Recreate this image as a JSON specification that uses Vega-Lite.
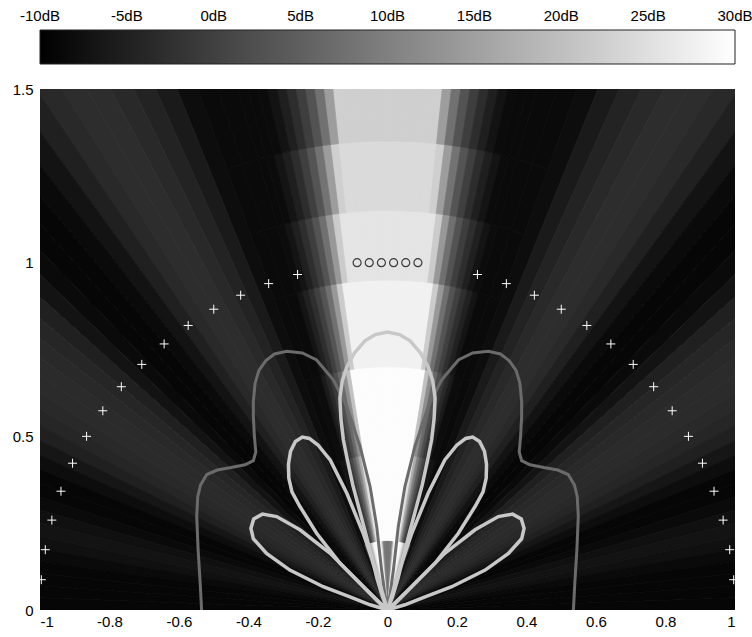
{
"$schema": "https://vega.github.io/schema/vega-lite/v6.json",
"padding": {"left": 12, "top": 30, "right": 0, "bottom": 8},
"width": 695,
"height": 521,
"datasets": {
"heat": [
{"t1":0,"t2":2,"r1":0,"r2":0.2,"db":8},{"t1":2,"t2":4,"r1":0,"r2":0.2,"db":9},{"t1":4,"t2":5,"r1":0,"r2":0.2,"db":16},{"t1":5,"t2":6,"r1":0,"r2":0.2,"db":26},{"t1":6,"t2":7,"r1":0,"r2":0.2,"db":29},{"t1":7,"t2":8,"r1":0,"r2":0.2,"db":29},{"t1":8,"t2":9,"r1":0,"r2":0.2,"db":29},{"t1":9,"t2":10,"r1":0,"r2":0.2,"db":29},{"t1":10,"t2":11,"r1":0,"r2":0.2,"db":29},{"t1":11,"t2":12,"r1":0,"r2":0.2,"db":29},{"t1":12,"t2":13,"r1":0,"r2":0.2,"db":27},{"t1":13,"t2":14,"r1":0,"r2":0.2,"db":23},{"t1":14,"t2":15,"r1":0,"r2":0.2,"db":19},{"t1":15,"t2":16,"r1":0,"r2":0.2,"db":15},{"t1":16,"t2":18,"r1":0,"r2":0.2,"db":8},{"t1":18,"t2":20,"r1":0,"r2":0.2,"db":0},
{"t1":-2,"t2":0,"r1":0,"r2":0.2,"db":8},{"t1":-4,"t2":-2,"r1":0,"r2":0.2,"db":9},{"t1":-5,"t2":-4,"r1":0,"r2":0.2,"db":16},{"t1":-6,"t2":-5,"r1":0,"r2":0.2,"db":26},{"t1":-7,"t2":-6,"r1":0,"r2":0.2,"db":29},{"t1":-8,"t2":-7,"r1":0,"r2":0.2,"db":29},{"t1":-9,"t2":-8,"r1":0,"r2":0.2,"db":29},{"t1":-10,"t2":-9,"r1":0,"r2":0.2,"db":29},{"t1":-11,"t2":-10,"r1":0,"r2":0.2,"db":29},{"t1":-12,"t2":-11,"r1":0,"r2":0.2,"db":29},{"t1":-13,"t2":-12,"r1":0,"r2":0.2,"db":27},{"t1":-14,"t2":-13,"r1":0,"r2":0.2,"db":23},{"t1":-15,"t2":-14,"r1":0,"r2":0.2,"db":19},{"t1":-16,"t2":-15,"r1":0,"r2":0.2,"db":15},{"t1":-18,"t2":-16,"r1":0,"r2":0.2,"db":8},{"t1":-20,"t2":-18,"r1":0,"r2":0.2,"db":0},
{"t1":0,"t2":2,"r1":0.2,"r2":0.45,"db":29.5},{"t1":2,"t2":4,"r1":0.2,"r2":0.45,"db":29.5},{"t1":4,"t2":5,"r1":0.2,"r2":0.45,"db":29.5},{"t1":5,"t2":6,"r1":0.2,"r2":0.45,"db":29.5},{"t1":6,"t2":7,"r1":0.2,"r2":0.45,"db":29.5},{"t1":7,"t2":8,"r1":0.2,"r2":0.45,"db":29.5},{"t1":8,"t2":9,"r1":0.2,"r2":0.45,"db":29.5},{"t1":9,"t2":10,"r1":0.2,"r2":0.45,"db":25.1},{"t1":10,"t2":11,"r1":0.2,"r2":0.45,"db":16.7},{"t1":11,"t2":12,"r1":0.2,"r2":0.45,"db":9.9},{"t1":12,"t2":13,"r1":0.2,"r2":0.45,"db":5},{"t1":13,"t2":14,"r1":0.2,"r2":0.45,"db":1.4},{"t1":14,"t2":15,"r1":0.2,"r2":0.45,"db":-1.5},{"t1":15,"t2":16,"r1":0.2,"r2":0.45,"db":-3.9},{"t1":16,"t2":18,"r1":0.2,"r2":0.45,"db":-6.9},{"t1":18,"t2":20,"r1":0.2,"r2":0.45,"db":-8.5},
{"t1":-2,"t2":0,"r1":0.2,"r2":0.45,"db":29.5},{"t1":-4,"t2":-2,"r1":0.2,"r2":0.45,"db":29.5},{"t1":-5,"t2":-4,"r1":0.2,"r2":0.45,"db":29.5},{"t1":-6,"t2":-5,"r1":0.2,"r2":0.45,"db":29.5},{"t1":-7,"t2":-6,"r1":0.2,"r2":0.45,"db":29.5},{"t1":-8,"t2":-7,"r1":0.2,"r2":0.45,"db":29.5},{"t1":-9,"t2":-8,"r1":0.2,"r2":0.45,"db":29.5},{"t1":-10,"t2":-9,"r1":0.2,"r2":0.45,"db":25.1},{"t1":-11,"t2":-10,"r1":0.2,"r2":0.45,"db":16.7},{"t1":-12,"t2":-11,"r1":0.2,"r2":0.45,"db":9.9},{"t1":-13,"t2":-12,"r1":0.2,"r2":0.45,"db":5},{"t1":-14,"t2":-13,"r1":0.2,"r2":0.45,"db":1.4},{"t1":-15,"t2":-14,"r1":0.2,"r2":0.45,"db":-1.5},{"t1":-16,"t2":-15,"r1":0.2,"r2":0.45,"db":-3.9},{"t1":-18,"t2":-16,"r1":0.2,"r2":0.45,"db":-6.9},{"t1":-20,"t2":-18,"r1":0.2,"r2":0.45,"db":-8.5},
{"t1":0,"t2":2,"r1":0.45,"r2":0.7,"db":29.5},{"t1":2,"t2":4,"r1":0.45,"r2":0.7,"db":29.5},{"t1":4,"t2":5,"r1":0.45,"r2":0.7,"db":29.5},{"t1":5,"t2":6,"r1":0.45,"r2":0.7,"db":29.5},{"t1":6,"t2":7,"r1":0.45,"r2":0.7,"db":29.5},{"t1":7,"t2":8,"r1":0.45,"r2":0.7,"db":29.5},{"t1":8,"t2":9,"r1":0.45,"r2":0.7,"db":29.5},{"t1":9,"t2":10,"r1":0.45,"r2":0.7,"db":20.3},{"t1":10,"t2":11,"r1":0.45,"r2":0.7,"db":12.3},{"t1":11,"t2":12,"r1":0.45,"r2":0.7,"db":6.4},{"t1":12,"t2":13,"r1":0.45,"r2":0.7,"db":2.3},{"t1":13,"t2":14,"r1":0.45,"r2":0.7,"db":-0.9},{"t1":14,"t2":15,"r1":0.45,"r2":0.7,"db":-3.6},{"t1":15,"t2":16,"r1":0.45,"r2":0.7,"db":-5.8},{"t1":16,"t2":18,"r1":0.45,"r2":0.7,"db":-8.1},{"t1":18,"t2":20,"r1":0.45,"r2":0.7,"db":-8.5},
{"t1":-2,"t2":0,"r1":0.45,"r2":0.7,"db":29.5},{"t1":-4,"t2":-2,"r1":0.45,"r2":0.7,"db":29.5},{"t1":-5,"t2":-4,"r1":0.45,"r2":0.7,"db":29.5},{"t1":-6,"t2":-5,"r1":0.45,"r2":0.7,"db":29.5},{"t1":-7,"t2":-6,"r1":0.45,"r2":0.7,"db":29.5},{"t1":-8,"t2":-7,"r1":0.45,"r2":0.7,"db":29.5},{"t1":-9,"t2":-8,"r1":0.45,"r2":0.7,"db":29.5},{"t1":-10,"t2":-9,"r1":0.45,"r2":0.7,"db":20.3},{"t1":-11,"t2":-10,"r1":0.45,"r2":0.7,"db":12.3},{"t1":-12,"t2":-11,"r1":0.45,"r2":0.7,"db":6.4},{"t1":-13,"t2":-12,"r1":0.45,"r2":0.7,"db":2.3},{"t1":-14,"t2":-13,"r1":0.45,"r2":0.7,"db":-0.9},{"t1":-15,"t2":-14,"r1":0.45,"r2":0.7,"db":-3.6},{"t1":-16,"t2":-15,"r1":0.45,"r2":0.7,"db":-5.8},{"t1":-18,"t2":-16,"r1":0.45,"r2":0.7,"db":-8.1},{"t1":-20,"t2":-18,"r1":0.45,"r2":0.7,"db":-8.5},
{"t1":0,"t2":2,"r1":0.7,"r2":0.95,"db":27.8},{"t1":2,"t2":4,"r1":0.7,"r2":0.95,"db":27.8},{"t1":4,"t2":5,"r1":0.7,"r2":0.95,"db":27.8},{"t1":5,"t2":6,"r1":0.7,"r2":0.95,"db":27.8},{"t1":6,"t2":7,"r1":0.7,"r2":0.95,"db":27.8},{"t1":7,"t2":8,"r1":0.7,"r2":0.95,"db":27.8},{"t1":8,"t2":9,"r1":0.7,"r2":0.95,"db":21.8},{"t1":9,"t2":10,"r1":0.7,"r2":0.95,"db":13.8},{"t1":10,"t2":11,"r1":0.7,"r2":0.95,"db":7.6},{"t1":11,"t2":12,"r1":0.7,"r2":0.95,"db":3.2},{"t1":12,"t2":13,"r1":0.7,"r2":0.95,"db":0},{"t1":13,"t2":14,"r1":0.7,"r2":0.95,"db":-2.7},{"t1":14,"t2":15,"r1":0.7,"r2":0.95,"db":-4.9},{"t1":15,"t2":16,"r1":0.7,"r2":0.95,"db":-6.8},{"t1":16,"t2":18,"r1":0.7,"r2":0.95,"db":-8.5},{"t1":18,"t2":20,"r1":0.7,"r2":0.95,"db":-8.5},
{"t1":-2,"t2":0,"r1":0.7,"r2":0.95,"db":27.8},{"t1":-4,"t2":-2,"r1":0.7,"r2":0.95,"db":27.8},{"t1":-5,"t2":-4,"r1":0.7,"r2":0.95,"db":27.8},{"t1":-6,"t2":-5,"r1":0.7,"r2":0.95,"db":27.8},{"t1":-7,"t2":-6,"r1":0.7,"r2":0.95,"db":27.8},{"t1":-8,"t2":-7,"r1":0.7,"r2":0.95,"db":27.8},{"t1":-9,"t2":-8,"r1":0.7,"r2":0.95,"db":21.8},{"t1":-10,"t2":-9,"r1":0.7,"r2":0.95,"db":13.8},{"t1":-11,"t2":-10,"r1":0.7,"r2":0.95,"db":7.6},{"t1":-12,"t2":-11,"r1":0.7,"r2":0.95,"db":3.2},{"t1":-13,"t2":-12,"r1":0.7,"r2":0.95,"db":0},{"t1":-14,"t2":-13,"r1":0.7,"r2":0.95,"db":-2.7},{"t1":-15,"t2":-14,"r1":0.7,"r2":0.95,"db":-4.9},{"t1":-16,"t2":-15,"r1":0.7,"r2":0.95,"db":-6.8},{"t1":-18,"t2":-16,"r1":0.7,"r2":0.95,"db":-8.5},{"t1":-20,"t2":-18,"r1":0.7,"r2":0.95,"db":-8.5},
{"t1":0,"t2":2,"r1":0.95,"r2":1.15,"db":25.8},{"t1":2,"t2":4,"r1":0.95,"r2":1.15,"db":25.8},{"t1":4,"t2":5,"r1":0.95,"r2":1.15,"db":25.8},{"t1":5,"t2":6,"r1":0.95,"r2":1.15,"db":25.8},{"t1":6,"t2":7,"r1":0.95,"r2":1.15,"db":25.8},{"t1":7,"t2":8,"r1":0.95,"r2":1.15,"db":21.8},{"t1":8,"t2":9,"r1":0.95,"r2":1.15,"db":13.8},{"t1":9,"t2":10,"r1":0.95,"r2":1.15,"db":7.5},{"t1":10,"t2":11,"r1":0.95,"r2":1.15,"db":3},{"t1":11,"t2":12,"r1":0.95,"r2":1.15,"db":-0.2},{"t1":12,"t2":13,"r1":0.95,"r2":1.15,"db":-2.8},{"t1":13,"t2":14,"r1":0.95,"r2":1.15,"db":-5},{"t1":14,"t2":15,"r1":0.95,"r2":1.15,"db":-6.9},{"t1":15,"t2":16,"r1":0.95,"r2":1.15,"db":-8.1},{"t1":16,"t2":18,"r1":0.95,"r2":1.15,"db":-8.5},{"t1":18,"t2":20,"r1":0.95,"r2":1.15,"db":-8.5},
{"t1":-2,"t2":0,"r1":0.95,"r2":1.15,"db":25.8},{"t1":-4,"t2":-2,"r1":0.95,"r2":1.15,"db":25.8},{"t1":-5,"t2":-4,"r1":0.95,"r2":1.15,"db":25.8},{"t1":-6,"t2":-5,"r1":0.95,"r2":1.15,"db":25.8},{"t1":-7,"t2":-6,"r1":0.95,"r2":1.15,"db":25.8},{"t1":-8,"t2":-7,"r1":0.95,"r2":1.15,"db":21.8},{"t1":-9,"t2":-8,"r1":0.95,"r2":1.15,"db":13.8},{"t1":-10,"t2":-9,"r1":0.95,"r2":1.15,"db":7.5},{"t1":-11,"t2":-10,"r1":0.95,"r2":1.15,"db":3},{"t1":-12,"t2":-11,"r1":0.95,"r2":1.15,"db":-0.2},{"t1":-13,"t2":-12,"r1":0.95,"r2":1.15,"db":-2.8},{"t1":-14,"t2":-13,"r1":0.95,"r2":1.15,"db":-5},{"t1":-15,"t2":-14,"r1":0.95,"r2":1.15,"db":-6.9},{"t1":-16,"t2":-15,"r1":0.95,"r2":1.15,"db":-8.1},{"t1":-18,"t2":-16,"r1":0.95,"r2":1.15,"db":-8.5},{"t1":-20,"t2":-18,"r1":0.95,"r2":1.15,"db":-8.5},
{"t1":0,"t2":2,"r1":1.15,"r2":1.35,"db":24.2},{"t1":2,"t2":4,"r1":1.15,"r2":1.35,"db":24.2},{"t1":4,"t2":5,"r1":1.15,"r2":1.35,"db":24.2},{"t1":5,"t2":6,"r1":1.15,"r2":1.35,"db":24.2},{"t1":6,"t2":7,"r1":1.15,"r2":1.35,"db":22.5},{"t1":7,"t2":8,"r1":1.15,"r2":1.35,"db":14.6},{"t1":8,"t2":9,"r1":1.15,"r2":1.35,"db":8},{"t1":9,"t2":10,"r1":1.15,"r2":1.35,"db":3.2},{"t1":10,"t2":11,"r1":1.15,"r2":1.35,"db":-0.1},{"t1":11,"t2":12,"r1":1.15,"r2":1.35,"db":-2.9},{"t1":12,"t2":13,"r1":1.15,"r2":1.35,"db":-5.1},{"t1":13,"t2":14,"r1":1.15,"r2":1.35,"db":-6.9},{"t1":14,"t2":15,"r1":1.15,"r2":1.35,"db":-8.2},{"t1":15,"t2":16,"r1":1.15,"r2":1.35,"db":-8.5},{"t1":16,"t2":18,"r1":1.15,"r2":1.35,"db":-8.5},{"t1":18,"t2":20,"r1":1.15,"r2":1.35,"db":-8.5},
{"t1":-2,"t2":0,"r1":1.15,"r2":1.35,"db":24.2},{"t1":-4,"t2":-2,"r1":1.15,"r2":1.35,"db":24.2},{"t1":-5,"t2":-4,"r1":1.15,"r2":1.35,"db":24.2},{"t1":-6,"t2":-5,"r1":1.15,"r2":1.35,"db":24.2},{"t1":-7,"t2":-6,"r1":1.15,"r2":1.35,"db":22.5},{"t1":-8,"t2":-7,"r1":1.15,"r2":1.35,"db":14.6},{"t1":-9,"t2":-8,"r1":1.15,"r2":1.35,"db":8},{"t1":-10,"t2":-9,"r1":1.15,"r2":1.35,"db":3.2},{"t1":-11,"t2":-10,"r1":1.15,"r2":1.35,"db":-0.1},{"t1":-12,"t2":-11,"r1":1.15,"r2":1.35,"db":-2.9},{"t1":-13,"t2":-12,"r1":1.15,"r2":1.35,"db":-5.1},{"t1":-14,"t2":-13,"r1":1.15,"r2":1.35,"db":-6.9},{"t1":-15,"t2":-14,"r1":1.15,"r2":1.35,"db":-8.2},{"t1":-16,"t2":-15,"r1":1.15,"r2":1.35,"db":-8.5},{"t1":-18,"t2":-16,"r1":1.15,"r2":1.35,"db":-8.5},{"t1":-20,"t2":-18,"r1":1.15,"r2":1.35,"db":-8.5},
{"t1":0,"t2":2,"r1":1.35,"r2":1.85,"db":22.5},{"t1":2,"t2":4,"r1":1.35,"r2":1.85,"db":22.5},{"t1":4,"t2":5,"r1":1.35,"r2":1.85,"db":22.5},{"t1":5,"t2":6,"r1":1.35,"r2":1.85,"db":22.5},{"t1":6,"t2":7,"r1":1.35,"r2":1.85,"db":14.6},{"t1":7,"t2":8,"r1":1.35,"r2":1.85,"db":7.8},{"t1":8,"t2":9,"r1":1.35,"r2":1.85,"db":3},{"t1":9,"t2":10,"r1":1.35,"r2":1.85,"db":-0.3},{"t1":10,"t2":11,"r1":1.35,"r2":1.85,"db":-3},{"t1":11,"t2":12,"r1":1.35,"r2":1.85,"db":-5.2},{"t1":12,"t2":13,"r1":1.35,"r2":1.85,"db":-7},{"t1":13,"t2":14,"r1":1.35,"r2":1.85,"db":-8.2},{"t1":14,"t2":15,"r1":1.35,"r2":1.85,"db":-8.5},{"t1":15,"t2":16,"r1":1.35,"r2":1.85,"db":-8.5},{"t1":16,"t2":18,"r1":1.35,"r2":1.85,"db":-8.5},{"t1":18,"t2":20,"r1":1.35,"r2":1.85,"db":-8.5},
{"t1":-2,"t2":0,"r1":1.35,"r2":1.85,"db":22.5},{"t1":-4,"t2":-2,"r1":1.35,"r2":1.85,"db":22.5},{"t1":-5,"t2":-4,"r1":1.35,"r2":1.85,"db":22.5},{"t1":-6,"t2":-5,"r1":1.35,"r2":1.85,"db":22.5},{"t1":-7,"t2":-6,"r1":1.35,"r2":1.85,"db":14.6},{"t1":-8,"t2":-7,"r1":1.35,"r2":1.85,"db":7.8},{"t1":-9,"t2":-8,"r1":1.35,"r2":1.85,"db":3},{"t1":-10,"t2":-9,"r1":1.35,"r2":1.85,"db":-0.3},{"t1":-11,"t2":-10,"r1":1.35,"r2":1.85,"db":-3},{"t1":-12,"t2":-11,"r1":1.35,"r2":1.85,"db":-5.2},{"t1":-13,"t2":-12,"r1":1.35,"r2":1.85,"db":-7},{"t1":-14,"t2":-13,"r1":1.35,"r2":1.85,"db":-8.2},{"t1":-15,"t2":-14,"r1":1.35,"r2":1.85,"db":-8.5},{"t1":-16,"t2":-15,"r1":1.35,"r2":1.85,"db":-8.5},{"t1":-18,"t2":-16,"r1":1.35,"r2":1.85,"db":-8.5},{"t1":-20,"t2":-18,"r1":1.35,"r2":1.85,"db":-8.5},
{"t1":20,"t2":22,"r1":0,"r2":1.85,"db":-8},{"t1":22,"t2":24,"r1":0,"r2":1.85,"db":-6},{"t1":24,"t2":26,"r1":0,"r2":1.85,"db":-4.5},{"t1":26,"t2":28,"r1":0,"r2":1.85,"db":-3.5},{"t1":28,"t2":30,"r1":0,"r2":1.85,"db":-3},{"t1":30,"t2":32,"r1":0,"r2":1.85,"db":-3},{"t1":32,"t2":34,"r1":0,"r2":1.85,"db":-3.5},{"t1":34,"t2":36,"r1":0,"r2":1.85,"db":-5},{"t1":36,"t2":38,"r1":0,"r2":1.85,"db":-7},{"t1":38,"t2":40,"r1":0,"r2":1.85,"db":-8.5},{"t1":40,"t2":42,"r1":0,"r2":1.85,"db":-9},{"t1":42,"t2":44,"r1":0,"r2":1.85,"db":-9},{"t1":44,"t2":46,"r1":0,"r2":1.85,"db":-8.5},{"t1":46,"t2":48,"r1":0,"r2":1.85,"db":-7},{"t1":48,"t2":50,"r1":0,"r2":1.85,"db":-5},{"t1":50,"t2":52,"r1":0,"r2":1.85,"db":-4},{"t1":52,"t2":54,"r1":0,"r2":1.85,"db":-3.5},{"t1":54,"t2":56,"r1":0,"r2":1.85,"db":-3.2},{"t1":56,"t2":58,"r1":0,"r2":1.85,"db":-3.2},{"t1":58,"t2":60,"r1":0,"r2":1.85,"db":-3.5},{"t1":60,"t2":62,"r1":0,"r2":1.85,"db":-4},{"t1":62,"t2":64,"r1":0,"r2":1.85,"db":-5},{"t1":64,"t2":66,"r1":0,"r2":1.85,"db":-6.5},{"t1":66,"t2":68,"r1":0,"r2":1.85,"db":-8},{"t1":68,"t2":70,"r1":0,"r2":1.85,"db":-9},{"t1":70,"t2":72,"r1":0,"r2":1.85,"db":-9},{"t1":72,"t2":74,"r1":0,"r2":1.85,"db":-8.5},{"t1":74,"t2":76,"r1":0,"r2":1.85,"db":-7.5},{"t1":76,"t2":78,"r1":0,"r2":1.85,"db":-7},{"t1":78,"t2":80,"r1":0,"r2":1.85,"db":-7.5},{"t1":80,"t2":82,"r1":0,"r2":1.85,"db":-8.5},{"t1":82,"t2":84,"r1":0,"r2":1.85,"db":-9},{"t1":84,"t2":86,"r1":0,"r2":1.85,"db":-9},{"t1":86,"t2":88,"r1":0,"r2":1.85,"db":-9},{"t1":88,"t2":90,"r1":0,"r2":1.85,"db":-9},
{"t1":-22,"t2":-20,"r1":0,"r2":1.85,"db":-8},{"t1":-24,"t2":-22,"r1":0,"r2":1.85,"db":-6},{"t1":-26,"t2":-24,"r1":0,"r2":1.85,"db":-4.5},{"t1":-28,"t2":-26,"r1":0,"r2":1.85,"db":-3.5},{"t1":-30,"t2":-28,"r1":0,"r2":1.85,"db":-3},{"t1":-32,"t2":-30,"r1":0,"r2":1.85,"db":-3},{"t1":-34,"t2":-32,"r1":0,"r2":1.85,"db":-3.5},{"t1":-36,"t2":-34,"r1":0,"r2":1.85,"db":-5},{"t1":-38,"t2":-36,"r1":0,"r2":1.85,"db":-7},{"t1":-40,"t2":-38,"r1":0,"r2":1.85,"db":-8.5},{"t1":-42,"t2":-40,"r1":0,"r2":1.85,"db":-9},{"t1":-44,"t2":-42,"r1":0,"r2":1.85,"db":-9},{"t1":-46,"t2":-44,"r1":0,"r2":1.85,"db":-8.5},{"t1":-48,"t2":-46,"r1":0,"r2":1.85,"db":-7},{"t1":-50,"t2":-48,"r1":0,"r2":1.85,"db":-5},{"t1":-52,"t2":-50,"r1":0,"r2":1.85,"db":-4},{"t1":-54,"t2":-52,"r1":0,"r2":1.85,"db":-3.5},{"t1":-56,"t2":-54,"r1":0,"r2":1.85,"db":-3.2},{"t1":-58,"t2":-56,"r1":0,"r2":1.85,"db":-3.2},{"t1":-60,"t2":-58,"r1":0,"r2":1.85,"db":-3.5},{"t1":-62,"t2":-60,"r1":0,"r2":1.85,"db":-4},{"t1":-64,"t2":-62,"r1":0,"r2":1.85,"db":-5},{"t1":-66,"t2":-64,"r1":0,"r2":1.85,"db":-6.5},{"t1":-68,"t2":-66,"r1":0,"r2":1.85,"db":-8},{"t1":-70,"t2":-68,"r1":0,"r2":1.85,"db":-9},{"t1":-72,"t2":-70,"r1":0,"r2":1.85,"db":-9},{"t1":-74,"t2":-72,"r1":0,"r2":1.85,"db":-8.5},{"t1":-76,"t2":-74,"r1":0,"r2":1.85,"db":-7.5},{"t1":-78,"t2":-76,"r1":0,"r2":1.85,"db":-7},{"t1":-80,"t2":-78,"r1":0,"r2":1.85,"db":-7.5},{"t1":-82,"t2":-80,"r1":0,"r2":1.85,"db":-8.5},{"t1":-84,"t2":-82,"r1":0,"r2":1.85,"db":-9},{"t1":-86,"t2":-84,"r1":0,"r2":1.85,"db":-9},{"t1":-88,"t2":-86,"r1":0,"r2":1.85,"db":-9},{"t1":-90,"t2":-88,"r1":0,"r2":1.85,"db":-9}
],
"curves": [
{"k":"d","s":"dL","o":0,"x":0,"y":0},{"k":"d","s":"dL","o":1,"x":-0.008,"y":0.05},{"k":"d","s":"dL","o":2,"x":-0.017,"y":0.115},{"k":"d","s":"dL","o":3,"x":-0.031,"y":0.24},{"k":"d","s":"dL","o":4,"x":-0.05,"y":0.355},{"k":"d","s":"dL","o":5,"x":-0.079,"y":0.471},{"k":"d","s":"dL","o":6,"x":-0.117,"y":0.586},{"k":"d","s":"dL","o":7,"x":-0.156,"y":0.663},{"k":"d","s":"dL","o":8,"x":-0.204,"y":0.72},{"k":"d","s":"dL","o":9,"x":-0.245,"y":0.74},{"k":"d","s":"dL","o":10,"x":-0.29,"y":0.745},{"k":"d","s":"dL","o":11,"x":-0.325,"y":0.737},{"k":"d","s":"dL","o":12,"x":-0.35,"y":0.718},{"k":"d","s":"dL","o":13,"x":-0.37,"y":0.69},{"k":"d","s":"dL","o":14,"x":-0.381,"y":0.653},{"k":"d","s":"dL","o":15,"x":-0.386,"y":0.6},{"k":"d","s":"dL","o":16,"x":-0.386,"y":0.557},{"k":"d","s":"dL","o":17,"x":-0.383,"y":0.5},{"k":"d","s":"dL","o":18,"x":-0.379,"y":0.455},{"k":"d","s":"dL","o":19,"x":-0.386,"y":0.43},{"k":"d","s":"dL","o":20,"x":-0.41,"y":0.418},{"k":"d","s":"dL","o":21,"x":-0.45,"y":0.41},{"k":"d","s":"dL","o":22,"x":-0.49,"y":0.403},{"k":"d","s":"dL","o":23,"x":-0.52,"y":0.39},{"k":"d","s":"dL","o":24,"x":-0.538,"y":0.36},{"k":"d","s":"dL","o":25,"x":-0.546,"y":0.327},{"k":"d","s":"dL","o":26,"x":-0.549,"y":0.27},{"k":"d","s":"dL","o":27,"x":-0.545,"y":0.173},{"k":"d","s":"dL","o":28,"x":-0.539,"y":0.077},{"k":"d","s":"dL","o":29,"x":-0.535,"y":0},
{"k":"d","s":"dR","o":0,"x":0,"y":0},{"k":"d","s":"dR","o":1,"x":0.008,"y":0.05},{"k":"d","s":"dR","o":2,"x":0.017,"y":0.115},{"k":"d","s":"dR","o":3,"x":0.031,"y":0.24},{"k":"d","s":"dR","o":4,"x":0.05,"y":0.355},{"k":"d","s":"dR","o":5,"x":0.079,"y":0.471},{"k":"d","s":"dR","o":6,"x":0.117,"y":0.586},{"k":"d","s":"dR","o":7,"x":0.156,"y":0.663},{"k":"d","s":"dR","o":8,"x":0.204,"y":0.72},{"k":"d","s":"dR","o":9,"x":0.245,"y":0.74},{"k":"d","s":"dR","o":10,"x":0.29,"y":0.745},{"k":"d","s":"dR","o":11,"x":0.325,"y":0.737},{"k":"d","s":"dR","o":12,"x":0.35,"y":0.718},{"k":"d","s":"dR","o":13,"x":0.37,"y":0.69},{"k":"d","s":"dR","o":14,"x":0.381,"y":0.653},{"k":"d","s":"dR","o":15,"x":0.386,"y":0.6},{"k":"d","s":"dR","o":16,"x":0.386,"y":0.557},{"k":"d","s":"dR","o":17,"x":0.383,"y":0.5},{"k":"d","s":"dR","o":18,"x":0.379,"y":0.455},{"k":"d","s":"dR","o":19,"x":0.386,"y":0.43},{"k":"d","s":"dR","o":20,"x":0.41,"y":0.418},{"k":"d","s":"dR","o":21,"x":0.45,"y":0.41},{"k":"d","s":"dR","o":22,"x":0.49,"y":0.403},{"k":"d","s":"dR","o":23,"x":0.52,"y":0.39},{"k":"d","s":"dR","o":24,"x":0.538,"y":0.36},{"k":"d","s":"dR","o":25,"x":0.546,"y":0.327},{"k":"d","s":"dR","o":26,"x":0.549,"y":0.27},{"k":"d","s":"dR","o":27,"x":0.545,"y":0.173},{"k":"d","s":"dR","o":28,"x":0.539,"y":0.077},{"k":"d","s":"dR","o":29,"x":0.535,"y":0},
{"k":"l","s":"c","o":0,"x":0,"y":0},{"k":"l","s":"c","o":1,"x":-0.015,"y":0.04},{"k":"l","s":"c","o":2,"x":-0.03,"y":0.09},{"k":"l","s":"c","o":3,"x":-0.045,"y":0.15},{"k":"l","s":"c","o":4,"x":-0.06,"y":0.21},{"k":"l","s":"c","o":5,"x":-0.08,"y":0.285},{"k":"l","s":"c","o":6,"x":-0.1,"y":0.36},{"k":"l","s":"c","o":7,"x":-0.115,"y":0.43},{"k":"l","s":"c","o":8,"x":-0.127,"y":0.49},{"k":"l","s":"c","o":9,"x":-0.134,"y":0.55},{"k":"l","s":"c","o":10,"x":-0.137,"y":0.61},{"k":"l","s":"c","o":11,"x":-0.13,"y":0.66},{"k":"l","s":"c","o":12,"x":-0.117,"y":0.7},{"k":"l","s":"c","o":13,"x":-0.095,"y":0.74},{"k":"l","s":"c","o":14,"x":-0.065,"y":0.775},{"k":"l","s":"c","o":15,"x":-0.035,"y":0.793},{"k":"l","s":"c","o":16,"x":0,"y":0.8},{"k":"l","s":"c","o":17,"x":0.035,"y":0.793},{"k":"l","s":"c","o":18,"x":0.065,"y":0.775},{"k":"l","s":"c","o":19,"x":0.095,"y":0.74},{"k":"l","s":"c","o":20,"x":0.117,"y":0.7},{"k":"l","s":"c","o":21,"x":0.13,"y":0.66},{"k":"l","s":"c","o":22,"x":0.137,"y":0.61},{"k":"l","s":"c","o":23,"x":0.134,"y":0.55},{"k":"l","s":"c","o":24,"x":0.127,"y":0.49},{"k":"l","s":"c","o":25,"x":0.115,"y":0.43},{"k":"l","s":"c","o":26,"x":0.1,"y":0.36},{"k":"l","s":"c","o":27,"x":0.08,"y":0.285},{"k":"l","s":"c","o":28,"x":0.06,"y":0.21},{"k":"l","s":"c","o":29,"x":0.045,"y":0.15},{"k":"l","s":"c","o":30,"x":0.03,"y":0.09},{"k":"l","s":"c","o":31,"x":0.015,"y":0.04},{"k":"l","s":"c","o":32,"x":0,"y":0},
{"k":"l","s":"a1","o":0,"x":0,"y":0},{"k":"l","s":"a1","o":1,"x":-0.06,"y":0.058},{"k":"l","s":"a1","o":2,"x":-0.137,"y":0.135},{"k":"l","s":"a1","o":3,"x":-0.204,"y":0.221},{"k":"l","s":"a1","o":4,"x":-0.252,"y":0.298},{"k":"l","s":"a1","o":5,"x":-0.275,"y":0.34},{"k":"l","s":"a1","o":6,"x":-0.284,"y":0.38},{"k":"l","s":"a1","o":7,"x":-0.285,"y":0.42},{"k":"l","s":"a1","o":8,"x":-0.279,"y":0.457},{"k":"l","s":"a1","o":9,"x":-0.265,"y":0.485},{"k":"l","s":"a1","o":10,"x":-0.245,"y":0.498},{"k":"l","s":"a1","o":11,"x":-0.225,"y":0.494},{"k":"l","s":"a1","o":12,"x":-0.2,"y":0.475},{"k":"l","s":"a1","o":13,"x":-0.165,"y":0.432},{"k":"l","s":"a1","o":14,"x":-0.117,"y":0.336},{"k":"l","s":"a1","o":15,"x":-0.07,"y":0.221},{"k":"l","s":"a1","o":16,"x":-0.031,"y":0.106},{"k":"l","s":"a1","o":17,"x":0,"y":0},
{"k":"l","s":"b1","o":0,"x":0,"y":0},{"k":"l","s":"b1","o":1,"x":0.06,"y":0.058},{"k":"l","s":"b1","o":2,"x":0.137,"y":0.135},{"k":"l","s":"b1","o":3,"x":0.204,"y":0.221},{"k":"l","s":"b1","o":4,"x":0.252,"y":0.298},{"k":"l","s":"b1","o":5,"x":0.275,"y":0.34},{"k":"l","s":"b1","o":6,"x":0.284,"y":0.38},{"k":"l","s":"b1","o":7,"x":0.285,"y":0.42},{"k":"l","s":"b1","o":8,"x":0.279,"y":0.457},{"k":"l","s":"b1","o":9,"x":0.265,"y":0.485},{"k":"l","s":"b1","o":10,"x":0.245,"y":0.498},{"k":"l","s":"b1","o":11,"x":0.225,"y":0.494},{"k":"l","s":"b1","o":12,"x":0.2,"y":0.475},{"k":"l","s":"b1","o":13,"x":0.165,"y":0.432},{"k":"l","s":"b1","o":14,"x":0.117,"y":0.336},{"k":"l","s":"b1","o":15,"x":0.07,"y":0.221},{"k":"l","s":"b1","o":16,"x":0.031,"y":0.106},{"k":"l","s":"b1","o":17,"x":0,"y":0},
{"k":"l","s":"a2","o":0,"x":0,"y":0},{"k":"l","s":"a2","o":1,"x":-0.022,"y":0.019},{"k":"l","s":"a2","o":2,"x":-0.089,"y":0.086},{"k":"l","s":"a2","o":3,"x":-0.165,"y":0.163},{"k":"l","s":"a2","o":4,"x":-0.252,"y":0.231},{"k":"l","s":"a2","o":5,"x":-0.319,"y":0.269},{"k":"l","s":"a2","o":6,"x":-0.36,"y":0.276},{"k":"l","s":"a2","o":7,"x":-0.385,"y":0.262},{"k":"l","s":"a2","o":8,"x":-0.393,"y":0.235},{"k":"l","s":"a2","o":9,"x":-0.386,"y":0.205},{"k":"l","s":"a2","o":10,"x":-0.348,"y":0.163},{"k":"l","s":"a2","o":11,"x":-0.281,"y":0.115},{"k":"l","s":"a2","o":12,"x":-0.185,"y":0.067},{"k":"l","s":"a2","o":13,"x":-0.108,"y":0.038},{"k":"l","s":"a2","o":14,"x":-0.05,"y":0.015},{"k":"l","s":"a2","o":15,"x":0,"y":0},
{"k":"l","s":"b2","o":0,"x":0,"y":0},{"k":"l","s":"b2","o":1,"x":0.022,"y":0.019},{"k":"l","s":"b2","o":2,"x":0.089,"y":0.086},{"k":"l","s":"b2","o":3,"x":0.165,"y":0.163},{"k":"l","s":"b2","o":4,"x":0.252,"y":0.231},{"k":"l","s":"b2","o":5,"x":0.319,"y":0.269},{"k":"l","s":"b2","o":6,"x":0.36,"y":0.276},{"k":"l","s":"b2","o":7,"x":0.385,"y":0.262},{"k":"l","s":"b2","o":8,"x":0.393,"y":0.235},{"k":"l","s":"b2","o":9,"x":0.386,"y":0.205},{"k":"l","s":"b2","o":10,"x":0.348,"y":0.163},{"k":"l","s":"b2","o":11,"x":0.281,"y":0.115},{"k":"l","s":"b2","o":12,"x":0.185,"y":0.067},{"k":"l","s":"b2","o":13,"x":0.108,"y":0.038},{"k":"l","s":"b2","o":14,"x":0.05,"y":0.015},{"k":"l","s":"b2","o":15,"x":0,"y":0}
],
"cross": [
{"x":0.2588,"y":0.9659},{"x":0.342,"y":0.9397},{"x":0.4226,"y":0.9063},{"x":0.5,"y":0.866},{"x":0.5736,"y":0.8192},{"x":0.6428,"y":0.766},{"x":0.7071,"y":0.7071},{"x":0.766,"y":0.6428},{"x":0.8192,"y":0.5736},{"x":0.866,"y":0.5},{"x":0.9063,"y":0.4226},{"x":0.9397,"y":0.342},{"x":0.9659,"y":0.2588},{"x":0.9848,"y":0.1736},{"x":0.9962,"y":0.0872},
{"x":-0.2588,"y":0.9659},{"x":-0.342,"y":0.9397},{"x":-0.4226,"y":0.9063},{"x":-0.5,"y":0.866},{"x":-0.5736,"y":0.8192},{"x":-0.6428,"y":0.766},{"x":-0.7071,"y":0.7071},{"x":-0.766,"y":0.6428},{"x":-0.8192,"y":0.5736},{"x":-0.866,"y":0.5},{"x":-0.9063,"y":0.4226},{"x":-0.9397,"y":0.342},{"x":-0.9659,"y":0.2588},{"x":-0.9848,"y":0.1736},{"x":-0.9962,"y":0.0872}
],
"circ": [
{"x":-0.0875,"y":1},{"x":-0.0525,"y":1},{"x":-0.0175,"y":1},{"x":0.0175,"y":1},{"x":0.0525,"y":1},{"x":0.0875,"y":1}
]
},
"layer": [
{"data": {"name": "heat"},
 "mark": {"type": "arc", "clip": true, "stroke": {"expr": "scale('color', datum.db)"}, "strokeWidth": 0.8},
 "encoding": {
  "x": {"datum": 0, "type": "quantitative", "scale": {"domain": [-1, 1], "nice": false, "zero": false},
        "axis": {"values": [-1, -0.8, -0.6, -0.4, -0.2, 0, 0.2, 0.4, 0.6, 0.8, 1], "labelExpr": "replace(format(datum.value, '~g'), '\u2212', '-')", "labelPadding": 4, "title": null}},
  "y": {"datum": 0, "type": "quantitative", "scale": {"domain": [0, 1.5], "nice": false},
        "axis": {"values": [0, 0.5, 1, 1.5], "labelExpr": "replace(format(datum.value, '~g'), '\u2212', '-')", "labelPadding": 7, "title": null}},
  "theta": {"field": "t1", "type": "quantitative", "stack": null, "scale": {"domain": [-90, 90], "range": [-1.5707963, 1.5707963]}},
  "theta2": {"field": "t2"},
  "radius": {"field": "r2", "type": "quantitative", "scale": {"type": "linear", "domain": [0, 1.5], "range": [0, 521], "zero": true}},
  "radius2": {"field": "r1"},
  "color": {"field": "db", "type": "quantitative",
    "scale": {"domain": [-10, 30], "range": ["#000000", "#ffffff"], "interpolate": "rgb", "clamp": true},
    "legend": {"type": "gradient", "orient": "none", "legendX": 0, "legendY": -59, "direction": "horizontal", "gradientLength": 695, "gradientThickness": 34,
      "labelOffset": -55, "values": [-10, -5, 0, 5, 10, 15, 20, 25, 30], "labelExpr": "replace(format(datum.value, 'd'), '\u2212', '-') + 'dB'",
      "labelAlign": "center", "labelFontSize": 15, "labelFont": "Liberation Sans", "labelColor": "#000000", "labelOverlap": false,
      "gradientStrokeColor": "#222222", "gradientStrokeWidth": 1, "title": null,
      "encode": {"labels": {"update": {"align": {"value": "center"}}}}}}
 }},
{"data": {"name": "curves"},
 "transform": [{"filter": "datum.k == 'd'"}],
 "mark": {"type": "line", "color": "#6b6b6b", "strokeWidth": 3, "clip": true},
 "encoding": {
  "x": {"field": "x", "type": "quantitative", "title": null},
  "y": {"field": "y", "type": "quantitative", "title": null},
  "detail": {"field": "s"},
  "order": {"field": "o", "type": "quantitative"}
 }},
{"data": {"name": "curves"},
 "transform": [{"filter": "datum.k == 'l'"}],
 "mark": {"type": "line", "color": "#c8c8c8", "strokeWidth": 3.5, "clip": true},
 "encoding": {
  "x": {"field": "x", "type": "quantitative", "title": null},
  "y": {"field": "y", "type": "quantitative", "title": null},
  "detail": {"field": "s"},
  "order": {"field": "o", "type": "quantitative"}
 }},
{"data": {"name": "cross"},
 "mark": {"type": "point", "shape": "M-1,0L1,0M0,-1L0,1", "size": 81, "filled": false, "color": "#ffffff", "strokeWidth": 1, "opacity": 1},
 "encoding": {
  "x": {"field": "x", "type": "quantitative", "title": null},
  "y": {"field": "y", "type": "quantitative", "title": null}
 }},
{"data": {"name": "circ"},
 "mark": {"type": "point", "shape": "circle", "size": 64, "filled": false, "color": "#3a3a3a", "strokeWidth": 1.2, "opacity": 1},
 "encoding": {
  "x": {"field": "x", "type": "quantitative", "title": null},
  "y": {"field": "y", "type": "quantitative", "title": null}
 }}
],
"config": {
 "view": {"stroke": null},
 "axis": {"grid": false, "ticks": false, "domain": false, "labelFont": "Liberation Sans", "labelFontSize": 15, "labelColor": "#000000"}
}
}
